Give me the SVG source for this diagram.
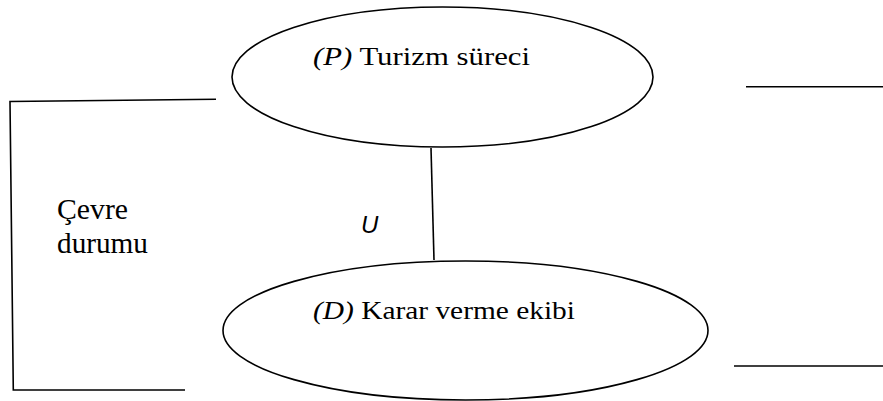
<svg xmlns="http://www.w3.org/2000/svg" width="883" height="401" viewBox="0 0 883 401">
<style>
.shape{fill:none;stroke:#000;stroke-width:1.6}
.line{fill:none;stroke:#000;stroke-width:1.6}
.lbl{font-family:"Liberation Serif","Times New Roman",serif;font-size:25px;fill:#000}
.it{font-style:italic}
.u{font-family:"Liberation Sans",Arial,sans-serif;font-style:italic;font-size:24px;fill:#000}
</style>
<rect width="883" height="401" fill="#fff"/>
<g id="connectors">
<line class="line" x1="431" y1="148" x2="434" y2="260"/>
<text class="u" x="361" y="233">U</text>
</g>
<g id="node-cevre">
<polyline class="shape" points="216,99.3 10,101.5 13.3,390 185,390"/>
<text class="lbl" x="57" y="219" font-size="29" textLength="71" lengthAdjust="spacingAndGlyphs" style="font-size:29px">Çevre</text>
<text class="lbl" x="57" y="253" style="font-size:29px" textLength="91" lengthAdjust="spacingAndGlyphs">durumu</text>
</g>
<g id="node-p">
<ellipse class="shape" cx="442.5" cy="77" rx="210.5" ry="70"/>
<text class="lbl" x="313" y="65" textLength="217" lengthAdjust="spacingAndGlyphs"><tspan class="it">(P)</tspan> Turizm süreci</text>
</g>
<g id="node-d">
<ellipse class="shape" cx="465.5" cy="330.5" rx="242.5" ry="69.5"/>
<text class="lbl" x="313" y="319" textLength="262" lengthAdjust="spacingAndGlyphs"><tspan class="it">(D)</tspan> Karar verme ekibi</text>
</g>
<g id="right-lines">
<line class="line" x1="746" y1="86.7" x2="883" y2="86.7"/>
<line class="line" x1="734" y1="366" x2="883" y2="366"/>
</g>
</svg>
